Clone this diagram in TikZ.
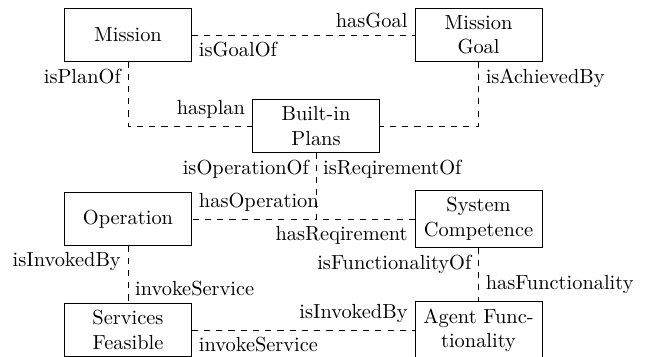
\documentclass[tikz,border=0pt]{standalone}
\usepackage{tikz}

\begin{document}
\begin{tikzpicture}[auto,node distance=6.04cm,
  box/.style={draw,rectangle,text width=1.95cm,align=center,minimum height=0.9cm},
  hv/.style={to path={|- (\tikztotarget) \tikztonodes}}]

\useasboundingbox (-2.205,0.603) rectangle (8.925,-5.531);

\node[box] (M)                                              {Mission};
\node[box] (MG) [right of=M]                                {Mission Goal};
\node[box] (BP) [node distance=1.568cm,below of=M,xshift=3.24cm] {Built-in Plans};
\node[box] (OP) [node distance=3.17cm,below of=M]           {Operation};
\node[box] (SC) [node distance=3.17cm,below of=MG]          {System Competence};
\node[box] (SF) [node distance=1.913cm,below of=OP]         {Services Feasible};
\node[box] (AF) [node distance=1.913cm,below of=SC]         {Agent Functionality};

\path[dashed]
(M)  edge node[pos=0,below right] {isGoalOf} node[pos=1,above left] {hasGoal} (MG)
     edge [hv] node[pos=0,below left] {isPlanOf} node[pos=1,above left] {hasplan} (BP)
(MG) edge [hv] node[pos=0,below right] {isAchievedBy} (BP)
(BP) edge [hv] node[pos=0,below left] {isOperationOf} node[pos=1,above right] {hasOperation} (OP)
     edge [hv] node[pos=0,below right] {isReqirementOf} node[pos=1,below left] {hasReqirement} (SC)
(OP) edge node[pos=0,below left] {isInvokedBy} node[pos=1,above right] {invokeService} (SF)
(SC) edge node[pos=0,below left] {isFunctionalityOf} node[pos=1,above right] {hasFunctionality} (AF)
(SF) edge node[pos=0,below right] {invokeService} node[pos=1,above left] {isInvokedBy} (AF)
;
\end{tikzpicture}
\end{document}
